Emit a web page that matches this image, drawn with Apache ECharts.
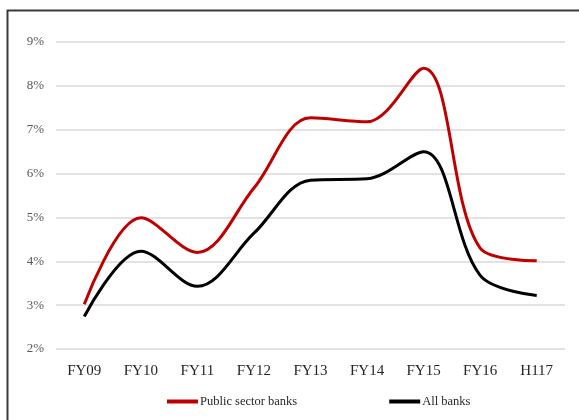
<!DOCTYPE html>
<html>
<head>
<meta charset="utf-8">
<script src="https://cdn.jsdelivr.net/npm/echarts@6/dist/echarts.min.js"></script>
<style>html,body{margin:0;padding:0;background:#fff}#c{width:579px;height:420px}</style>
</head>
<body>
<div id="c"></div>
<script>
const categories = ['FY09','FY10','FY11','FY12','FY13','FY14','FY15','FY16','H117'];
const publicSector = [3.02, 4.99, 4.2, 5.67, 7.27, 7.18, 8.4, 4.3, 4.01];
const allBanks = [2.74, 4.23, 3.43, 4.64, 5.85, 5.88, 6.5, 3.68, 3.22];
const yTicks = {min: 2, max: 9, step: 1};

const chart = echarts.init(document.getElementById('c'));
const font = '"Liberation Serif", "Times New Roman", serif';
chart.setOption({
  animation: false,
  backgroundColor: '#fff',
  graphic: [{
    type: 'polyline', silent: true, z: 100,
    shape: {points: [[7.5, 430], [7.5, 10.5], [590, 10.5]]},
    style: {fill: null, stroke: '#3a3a3a', lineWidth: 2}
  }],
  grid: {left: 56, right: 14, top: 42, bottom: 71},
  legend: {
    left: 162, top: 390, itemGap: 92, itemWidth: 31, itemHeight: 4,
    icon: 'rect',
    textStyle: {fontFamily: font, fontSize: 12.5, color: '#262626', padding: [0,0,0,-3]},
    data: ['Public sector banks', 'All banks']
  },
  xAxis: {
    type: 'category', data: categories, boundaryGap: true,
    axisLine: {show: false}, axisTick: {show: false},
    axisLabel: {fontFamily: font, fontSize: 15, color: '#262626', margin: 15}
  },
  yAxis: {
    type: 'value', min: yTicks.min, max: yTicks.max, interval: yTicks.step,
    axisLine: {show: false}, axisTick: {show: false},
    axisLabel: {fontFamily: font, fontSize: 13, color: '#595959', margin: 12, formatter: '{value}%'},
    splitLine: {lineStyle: {color: '#d9d9d9', width: 1.5}}
  },
  series: [
    {name: 'Public sector banks', type: 'line', data: publicSector, smooth: 0.35,
     showSymbol: false, lineStyle: {color: '#c00000', width: 3}, itemStyle: {color: '#c00000'}},
    {name: 'All banks', type: 'line', data: allBanks, smooth: 0.35,
     showSymbol: false, lineStyle: {color: '#000', width: 3}, itemStyle: {color: '#000'}}
  ]
});
</script>
</body>
</html>
